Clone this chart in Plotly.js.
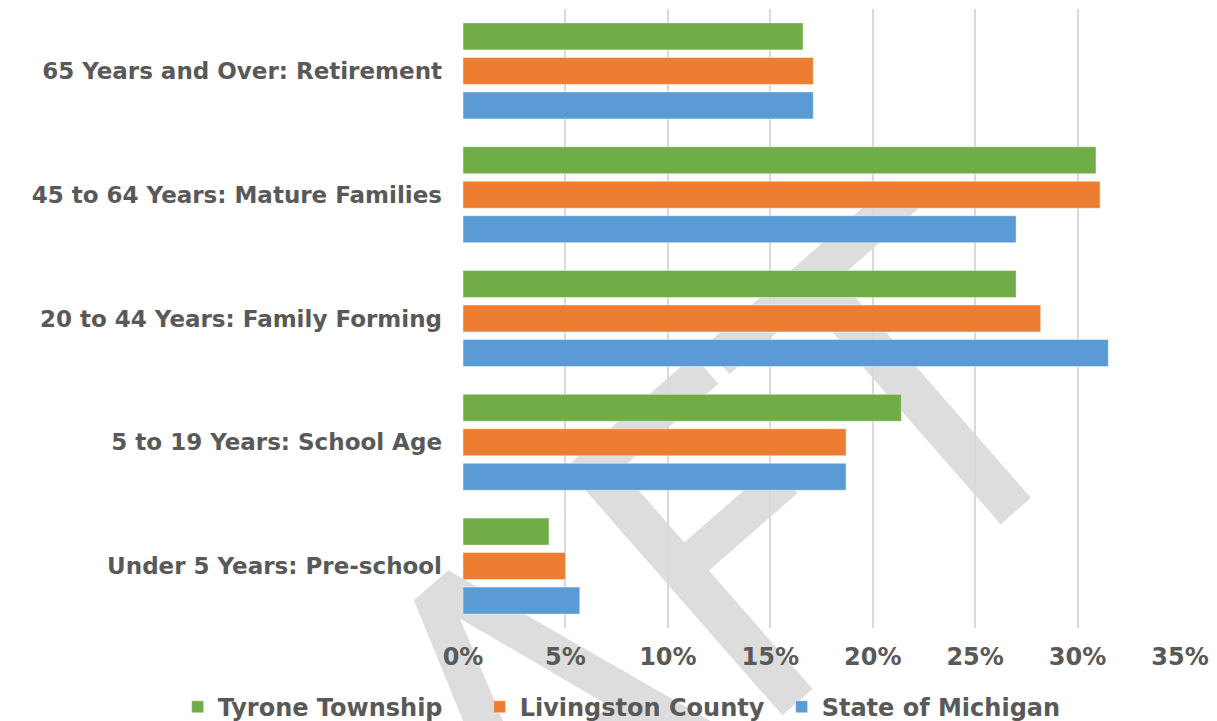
<!DOCTYPE html>
<html>
<head>
<meta charset="utf-8">
<script src="https://cdn.plot.ly/plotly-3.0.1.min.js"></script>
<style>html,body{margin:0;padding:0;background:#fff;}#chart{width:1217px;height:721px;}</style>
</head>
<body>
<div id="chart"></div>
<script>
// Categories (bottom to top as drawn)
const categories = [
  "Under 5 Years: Pre-school",
  "5 to 19 Years: School Age",
  "20 to 44 Years: Family Forming",
  "45 to 64 Years: Mature Families",
  "65 Years and Over: Retirement"
];
// Series values (percent)
const tyroneTownship   = [4.2, 21.4, 27.0, 30.9, 16.6];
const livingstonCounty = [5.0, 18.7, 28.2, 31.1, 17.1];
const stateOfMichigan  = [5.7, 18.7, 31.5, 27.0, 17.1];
const seriesNames = ["Tyrone Township", "Livingston County", "State of Michigan"];
const xTicks = [0, 5, 10, 15, 20, 25, 30, 35];
const watermarkText = "DRAFT";

const W = 1217, H = 721;
const M = {l: 463, r: 37, t: 9, b: 93};

const labelFont = {family: "DejaVu Sans, Verdana, sans-serif", size: 23, color: "#595959", weight: "bold"};
const tickFont = {family: "DejaVu Sans, Verdana, sans-serif", size: 24, color: "#595959", weight: "bold"};
const legendFont = {family: "DejaVu Sans, Verdana, sans-serif", size: 24, color: "#595959", weight: "bold"};

// ---- watermark placement (decorative, not data) ----
function pickFont(cands) {
  const ctx = document.createElement("canvas").getContext("2d");
  for (const f of cands) {
    ctx.font = "100px monospace";
    const w1 = ctx.measureText("DRAFTmwil").width;
    ctx.font = '100px "' + f + '", monospace';
    const w2 = ctx.measureText("DRAFTmwil").width;
    if (Math.abs(w1 - w2) > 0.5) return f;
  }
  return "sans-serif";
}
const wmFamily = pickFont(["Liberation Sans Narrow", "DejaVu Sans Condensed", "Liberation Sans", "DejaVu Sans"]);
const wmCap = /DejaVu/.test(wmFamily) ? 0.729 : 0.716;
const wmCtx = document.createElement("canvas").getContext("2d");
wmCtx.font = '100px "' + wmFamily + '"';
const mw = s => wmCtx.measureText(s).width / 100;
const wTotal = mw("DRAFT");
const aOff = mw("DR") + mw("A") / 2 - wTotal / 2;
const tOff = mw("DRAF") + mw("T") / 2 - wTotal / 2;
const aApex = [455, 585], tTop = [815, 270];
const dx = tTop[0] - aApex[0], dy = tTop[1] - aApex[1];
const dist = Math.hypot(dx, dy);
const wmAngle = Math.atan2(dy, dx);
const wmSize = dist / (tOff - aOff);
const rv = [Math.cos(wmAngle), Math.sin(wmAngle)];
const dv = [-Math.sin(wmAngle), Math.cos(wmAngle)];
const halfCap = wmCap * wmSize / 2 - 40;
const anchorPx = [
  aApex[0] - rv[0] * aOff * wmSize + dv[0] * halfCap,
  aApex[1] - rv[1] * aOff * wmSize + dv[1] * halfCap
];
const plotW = W - M.l - M.r, plotH = H - M.t - M.b;
const ax = (anchorPx[0] - M.l) / plotW;
const ay = (H - M.b - anchorPx[1]) / plotH;

function barTrace(name, values, color) {
  return {
    type: "bar", orientation: "h", name: name,
    y: categories, x: values,
    marker: {color: color, line: {color: "rgba(255,255,255,0.45)", width: 1}},
    hoverinfo: "skip"
  };
}

const data = [
  barTrace(seriesNames[2], stateOfMichigan, "#5B9BD5"),
  barTrace(seriesNames[1], livingstonCounty, "#ED7D31"),
  barTrace(seriesNames[0], tyroneTownship, "#70AD47")
];

const layout = {
  width: W, height: H,
  margin: {l: M.l, r: M.r, t: M.t, b: M.b, autoexpand: false},
  paper_bgcolor: "#ffffff", plot_bgcolor: "rgba(0,0,0,0)",
  barmode: "group", bargap: 0.164, bargroupgap: 0.217,
  showlegend: true,
  legend: {
    orientation: "h", traceorder: "reversed",
    xref: "paper", yref: "paper",
    x: -0.398, xanchor: "left", y: -0.128, yanchor: "middle",
    font: legendFont, itemclick: false, itemdoubleclick: false,
    entrywidth: 257, itemwidth: 30, bgcolor: "rgba(0,0,0,0)"
  },
  xaxis: {
    range: [0, 35], tickvals: xTicks, ticktext: xTicks.map(v => v + "%"),
    showgrid: true, gridcolor: "#d9d9d9", gridwidth: 2,
    zeroline: false, showline: false, ticks: "",
    tickfont: tickFont, ticklabelstandoff: 12, fixedrange: true, automargin: false
  },
  yaxis: {
    type: "category", categoryorder: "array", categoryarray: categories,
    showgrid: false, zeroline: false, showline: false, ticks: "",
    tickfont: labelFont, ticklabelstandoff: 20, fixedrange: true, automargin: false
  },
  shapes: [{
    type: "rect", xref: "paper", yref: "paper", layer: "below",
    x0: ax - 0.005, x1: ax + 0.005, y0: ay - 0.005, y1: ay + 0.005,
    line: {width: 0}, fillcolor: "rgba(0,0,0,0)",
    label: {
      text: watermarkText, textangle: wmAngle * 180 / Math.PI, textposition: "middle center",
      font: {family: wmFamily, size: wmSize, color: "#dddddd"}
    }
  }]
};

Plotly.newPlot("chart", data, layout, {displayModeBar: false, staticPlot: true});
</script>
</body>
</html>
